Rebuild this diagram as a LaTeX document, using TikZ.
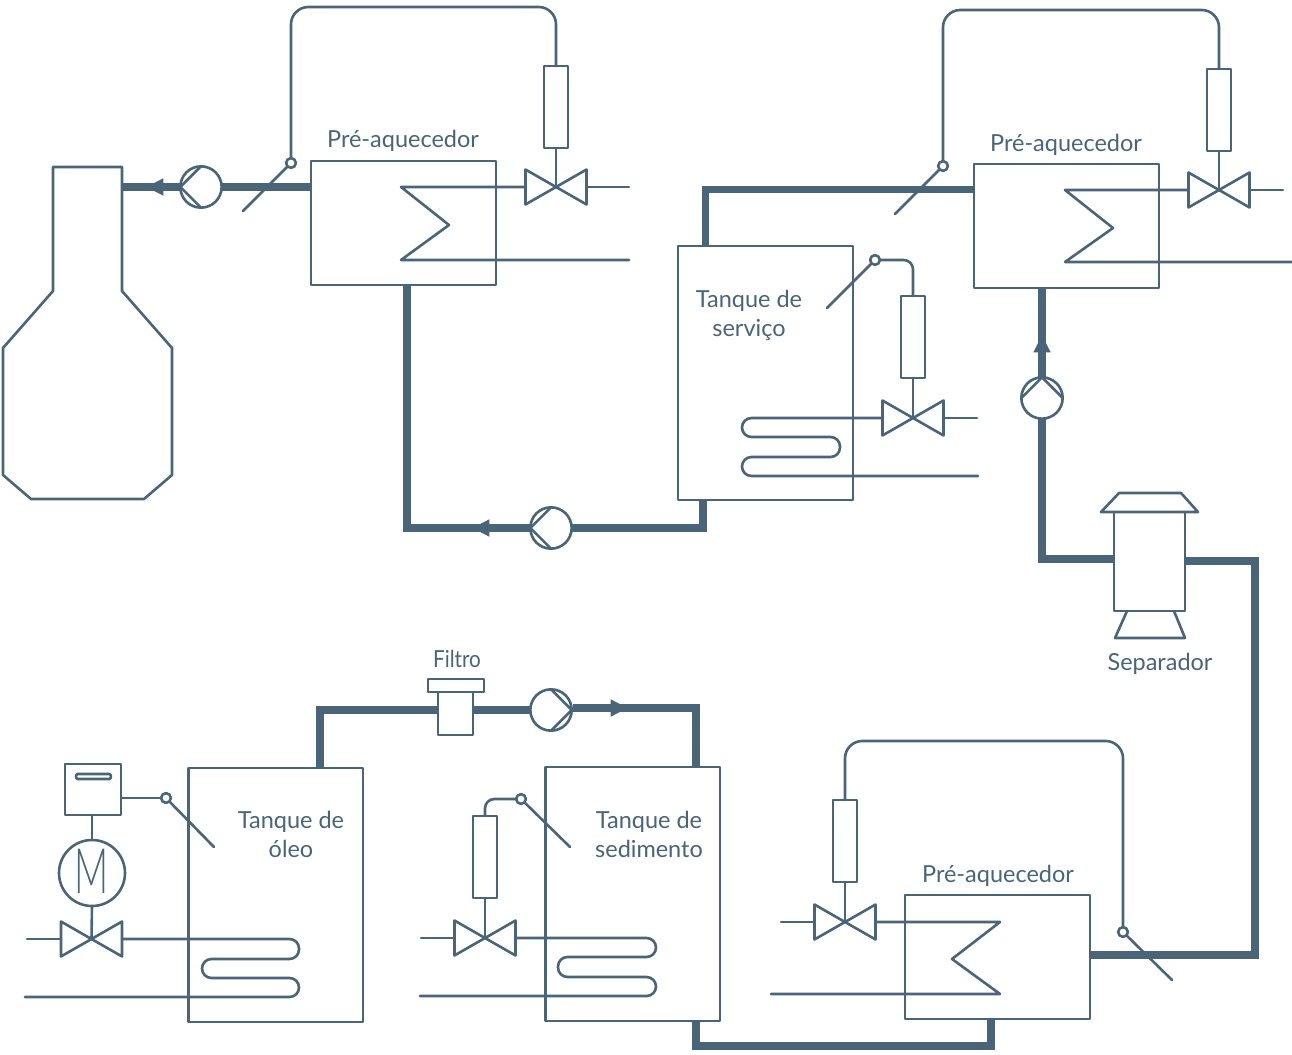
\documentclass[tikz,border=0pt]{standalone}
\usepackage{fontspec}
\setmainfont{Lato}
\newfontfamily\motorfont{Lato Light}
\usetikzlibrary{arrows.meta}
\definecolor{pc}{HTML}{4A6478}
\tikzset{
  x=0.75pt,y=-0.75pt,
  thin line/.style={draw=pc,line width=1.95pt,line join=round,line cap=round},
  pipe/.style={draw=pc,line width=5.6pt,line join=miter,line cap=butt},
  flow/.style={pipe,-{Triangle[length=13pt,width=12pt]}},
  boxshape/.style={thin line,rectangle,inner sep=0pt,outer sep=0pt,fill=white},
  pumpshape/.style={thin line,circle,inner sep=0pt,outer sep=0pt,minimum size=31pt},
  sensorshape/.style={thin line,circle,inner sep=0pt,outer sep=0pt,minimum size=7.3pt,fill=white},
  valveshape/.style={rectangle,inner sep=0pt,outer sep=0pt,minimum width=45.8pt,minimum height=26.2pt},
  lbl/.style={text=pc,font=\fontsize{17.6pt}{21.8pt}\selectfont,align=center,inner sep=0pt},
  capillary/.style={thin line,rounded corners=13pt},
  coil/.style={thin line,rounded corners=7.1pt},
}
\newcommand{\boxnode}[6][]{\node[boxshape,#1,minimum width={(#5-#3)*0.75pt},minimum height={(#6-#4)*0.75pt}] (#2) at ({(#3+#5)/2},{(#4+#6)/2}) {};}
\newcommand{\valvenode}[3]{\node[valveshape] (#1) at (#2,#3) {};
  \draw[thin line] (#1.north west) -- (#1.south east) -- (#1.north east) -- (#1.south west) -- cycle;}
\newcommand{\pumpnode}[6]{\node[pumpshape] (#1) at (#2,#3) {};
  \draw[thin line] (#1.#4) -- (#1.#5) -- (#1.#6);}
\begin{document}
\begin{tikzpicture}
\useasboundingbox (0,0) rectangle (1292,1055);
% ---------- boiler
\draw[thin line] (53,167) -- (122,167) -- (122,291) -- (172,348) -- (172,475) -- (144,499) -- (31,499) -- (3,475) -- (3,348) -- (53,291) -- cycle;
\coordinate (boilerport) at (122,187);

% ---------- equipment: heat exchangers and tanks
\boxnode{heatA}{311}{161}{496}{285}
\boxnode{heatB}{974}{164}{1159}{288}
\boxnode{heatC}{905}{895}{1090}{1019}
\boxnode{tankServ}{678}{246}{853}{500}
\boxnode{tankOil}{188.5}{768}{363}{1022}
\boxnode{tankSed}{545.5}{767}{720}{1021}
\boxnode{sep}{1114}{512}{1185}{611}
\boxnode{filterBody}{438}{692}{473}{735}
\boxnode{filterTop}{428}{679}{484}{692}
\draw[thin line] (1101,512) -- (1119,493) -- (1181,493) -- (1198,512) -- cycle;
\draw[thin line] (1127,611) -- (1115,638) -- (1185,638) -- (1174,611);

% ---------- pumps
\pumpnode{pumpA}{201}{187}{90}{180}{270}
\pumpnode{pumpB}{551}{528}{90}{180}{270}
\pumpnode{pumpC}{1042}{398}{180}{90}{0}
\pumpnode{pumpD}{551}{710}{90}{0}{270}

% ---------- ports and free ends
\coordinate (hAin) at (311,187);
\coordinate (hAout) at (407,285);
\coordinate (cA1) at (407,528);
\coordinate (arrA) at (146,187);
\coordinate (arrB) at (472,528);
\coordinate (tSout) at (703,500);
\coordinate (cB1) at (703,528);
\coordinate (tSin) at (705.5,246);
\coordinate (cC1) at (705.5,189.5);
\coordinate (hBout) at (974,189.5);
\coordinate (hBin) at (1042,288);
\coordinate (arrC) at (1042,335);
\coordinate (cD1) at (1042,559);
\coordinate (sepL) at (1114,559);
\coordinate (sepR) at (1185,561);
\coordinate (cE1) at (1255,561);
\coordinate (cE2) at (1255,955);
\coordinate (hCr) at (1090,955);
\coordinate (hCb) at (991,1019);
\coordinate (cF1) at (991,1046);
\coordinate (cF2) at (696,1046);
\coordinate (tDb) at (696,1021);
\coordinate (tDt) at (696,767);
\coordinate (cG1) at (696,708);
\coordinate (arrD) at (628,708);
\coordinate (pDout) at (573,708);
\coordinate (fR) at (473,710);
\coordinate (fL) at (438,710);
\coordinate (cH1) at (320,710);
\coordinate (tOt) at (320,768);

% ---------- thick process piping
\draw[pipe] (pumpA.west) -- (boilerport);
\draw[flow] (pumpA.west) -- (arrA);
\draw[pipe] (hAin) -- (pumpA.east);
\draw[pipe] (hAout) -- (cA1) -- (pumpB.west);
\draw[flow] (pumpB.west) -- (arrB);
\draw[pipe] (pumpB.east) -- (cB1) -- (tSout);
\draw[pipe] (tSin) -- (cC1) -- (hBout);
\draw[pipe] (hBin) -- (pumpC.north);
\draw[flow] (pumpC.north) -- (arrC);
\draw[pipe] (pumpC.south) -- (cD1) -- (sepL);
\draw[pipe] (sepR) -- (cE1) -- (cE2) -- (hCr);
\draw[pipe] (hCb) -- (cF1) -- (cF2) -- (tDb);
\draw[pipe] (tDt) -- (cG1) -- (pDout);
\draw[flow] (pDout) -- (arrD);
\draw[pipe] (pumpD.west) -- (fR);
\draw[pipe] (fL) -- (cH1) -- (tOt);

% ---------- heater A controls
\node[sensorshape] (sA) at (291,163) {};
\coordinate (sAend) at (243,211);
\draw[thin line] (sA) -- (sAend);
\boxnode{bulbA}{544}{66}{568}{148}
\valvenode{valveA}{556}{187}
\coordinate (cA2) at (291,7);
\coordinate (cA3) at (556,7);
\draw[capillary] (sA) -- (cA2) -- (cA3) -- (bulbA.north);
\draw[thin line] (bulbA.south) -- (valveA.center);
\coordinate (vAr) at (629,187);
\draw[thin line] (valveA.east) -- (vAr);
\coordinate (zA1) at (401,187); \coordinate (zA2) at (449,225); \coordinate (zA3) at (401,260); \coordinate (zA4) at (629,260);
\draw[thin line] (valveA.west) -- (zA1) -- (zA2) -- (zA3) -- (zA4);

% ---------- heater B controls
\node[sensorshape] (sB) at (943,166) {};
\coordinate (sBend) at (895,214);
\draw[thin line] (sB) -- (sBend);
\boxnode{bulbB}{1207}{69}{1231}{151}
\valvenode{valveB}{1219}{190}
\coordinate (cB2) at (943,10);
\coordinate (cB3) at (1219,10);
\draw[capillary] (sB) -- (cB2) -- (cB3) -- (bulbB.north);
\draw[thin line] (bulbB.south) -- (valveB.center);
\coordinate (vBr) at (1283,190);
\draw[thin line] (valveB.east) -- (vBr);
\coordinate (zB1) at (1065,190); \coordinate (zB2) at (1113,228); \coordinate (zB3) at (1065,262); \coordinate (zB4) at (1292,262);
\draw[thin line] (valveB.west) -- (zB1) -- (zB2) -- (zB3) -- (zB4);

% ---------- heater C controls
\node[sensorshape] (sC) at (1123,932) {};
\coordinate (sCend) at (1172,980);
\draw[thin line] (sC) -- (sCend);
\boxnode{bulbC}{833}{800}{857}{882}
\valvenode{valveC}{845}{922}
\coordinate (cC2) at (1123,741);
\coordinate (cC3) at (845,741);
\draw[capillary] (sC) -- (cC2) -- (cC3) -- (bulbC.north);
\draw[thin line] (bulbC.south) -- (valveC.center);
\coordinate (vCl) at (781,922);
\draw[thin line] (valveC.west) -- (vCl);
\coordinate (zC1) at (1000,922); \coordinate (zC2) at (952,959); \coordinate (zC3) at (1000,994); \coordinate (zC4) at (771,994);
\draw[thin line] (valveC.east) -- (zC1) -- (zC2) -- (zC3) -- (zC4);

% ---------- service tank controls
\node[sensorshape] (sS) at (875,260) {};
\coordinate (sSend) at (827,308);
\draw[thin line] (sS) -- (sSend);
\boxnode{bulbS}{901}{296}{925}{378}
\valvenode{valveS}{913}{418}
\coordinate (cS1) at (913,260);
\draw[thin line,rounded corners=7pt] (sS) -- (cS1) -- (bulbS.north);
\draw[thin line] (bulbS.south) -- (valveS.center);
\coordinate (vSr) at (977,418);
\draw[thin line] (valveS.east) -- (vSr);
\coordinate (kS1) at (742,418); \coordinate (kS2) at (742,437); \coordinate (kS3) at (840,437); \coordinate (kS4) at (840,457);
\coordinate (kS5) at (742,457); \coordinate (kS6) at (742,476); \coordinate (kS7) at (978,476);
\draw[coil] (valveS.west) -- (kS1) -- (kS2) -- (kS3) -- (kS4) -- (kS5) -- (kS6) -- (kS7);

% ---------- sediment tank controls
\node[sensorshape] (sD) at (521,799) {};
\coordinate (sDend) at (570,847);
\draw[thin line] (sD) -- (sDend);
\boxnode{bulbD}{473}{816}{497}{898}
\valvenode{valveD}{485}{938}
\coordinate (cD2) at (485,799);
\draw[thin line,rounded corners=7pt] (sD) -- (cD2) -- (bulbD.north);
\draw[thin line] (bulbD.south) -- (valveD.center);
\coordinate (vDl) at (421,938);
\draw[thin line] (valveD.west) -- (vDl);
\coordinate (kD1) at (656,938); \coordinate (kD2) at (656,957); \coordinate (kD3) at (558,957); \coordinate (kD4) at (558,977);
\coordinate (kD5) at (656,977); \coordinate (kD6) at (656,996); \coordinate (kD7) at (420,996);
\draw[coil] (valveD.east) -- (kD1) -- (kD2) -- (kD3) -- (kD4) -- (kD5) -- (kD6) -- (kD7);

% ---------- oil tank controls
\boxnode{ctrl}{65}{764}{121}{815}
\node[thin line,rectangle,rounded corners=1pt,inner sep=0pt,outer sep=0pt,minimum width=26pt,minimum height=3.8pt] (slot) at (93.5,776.5) {};
\node[sensorshape] (sO) at (166,798) {};
\coordinate (sOend) at (214,847);
\draw[thin line] (sO) -- (sOend);
\coordinate (ctrlR) at (121,798);
\draw[thin line] (ctrlR) -- (sO);
\node[thin line,circle,inner sep=0pt,outer sep=0pt,minimum size=49.5pt] (motor) at (92,873) {};
\node[text=pc,font=\motorfont\fontsize{47pt}{47pt}\selectfont,inner sep=0pt,xscale=0.6] (motorM) at (92,871) {M};
\valvenode{valveO}{91.5}{939}
\draw[thin line] (motor.north |- ctrl.south) -- (motor.north);
\draw[thin line] (motor.south) -- (valveO.center);
\coordinate (vOl) at (27,939);
\draw[thin line] (valveO.west) -- (vOl);
\coordinate (kO1) at (299,939); \coordinate (kO2) at (299,959); \coordinate (kO3) at (202,959); \coordinate (kO4) at (202,978);
\coordinate (kO5) at (299,978); \coordinate (kO6) at (299,997); \coordinate (kO7) at (25,997);
\draw[coil] (valveO.east) -- (kO1) -- (kO2) -- (kO3) -- (kO4) -- (kO5) -- (kO6) -- (kO7);

% ---------- labels
\node[lbl] (lA) at (403,141) {Pré-aquecedor};
\node[lbl] (lB) at (1066,145) {Pré-aquecedor};
\node[lbl] (lC) at (998,876) {Pré-aquecedor};
\node[lbl] (lS) at (749,315) {Tanque de\\serviço};
\node[lbl] (lO) at (291,834) {Tanque de\\óleo};
\node[lbl] (lD) at (649,834) {Tanque de\\sedimento};
\node[lbl,xscale=0.88] (lF) at (457,659) {Filtro};
\node[lbl] (lP) at (1160,664) {Separador};
\end{tikzpicture}
\end{document}
